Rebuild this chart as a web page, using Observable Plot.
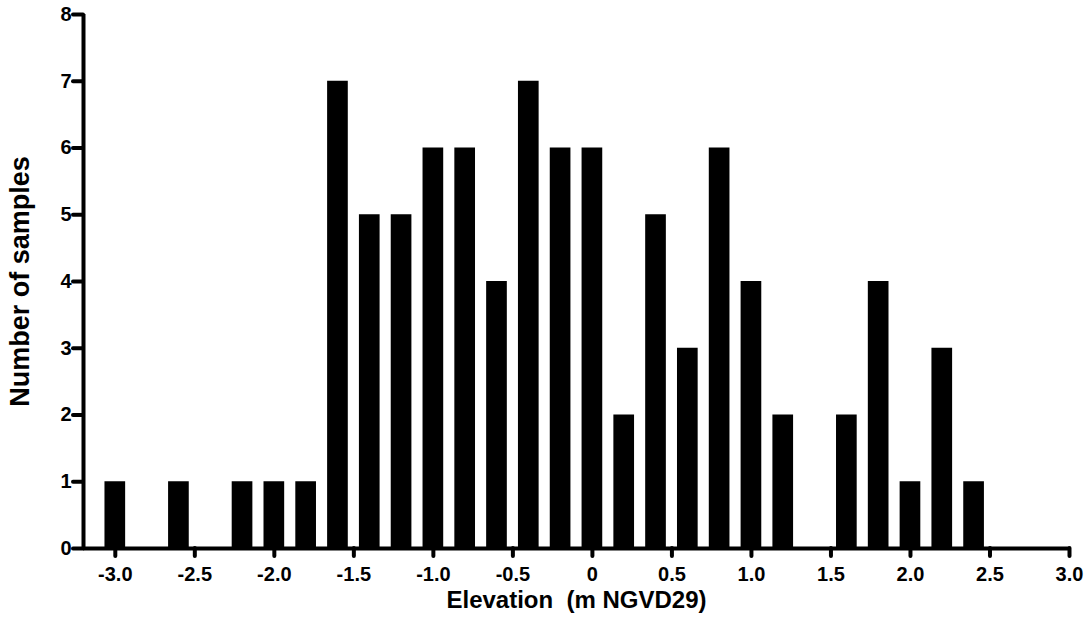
<!DOCTYPE html>
<html>
<head>
<meta charset="utf-8">
<script src="https://cdn.jsdelivr.net/npm/d3@7"></script>
<script src="https://cdn.jsdelivr.net/npm/@observablehq/plot@0.6"></script>
<style>
  html, body { margin: 0; padding: 0; background: #fff; }
  svg text { white-space: pre; }
</style>
</head>
<body>
<div id="chart"></div>
<script>
// Bin centres (m NGVD29) and sample counts
const elevations = [-3.0, -2.6, -2.2, -2.0, -1.8, -1.6, -1.4, -1.2, -1.0, -0.8, -0.6, -0.4, -0.2, 0.0, 0.2, 0.4, 0.6, 0.8, 1.0, 1.2, 1.6, 1.8, 2.0, 2.2, 2.4];
const counts     = [1, 1, 1, 1, 1, 7, 5, 5, 6, 6, 4, 7, 6, 6, 2, 5, 3, 6, 4, 2, 2, 4, 1, 3, 1];
const xTicks = [-3.0, -2.5, -2.0, -1.5, -1.0, -0.5, 0, 0.5, 1.0, 1.5, 2.0, 2.5, 3.0];
const yTicks = [0, 1, 2, 3, 4, 5, 6, 7, 8];
const xLabel = "Elevation  (m NGVD29)";
const yLabel = "Number of samples";

const halfWidth = 0.065;
const xMin = -3.2, xMax = 3.0;
const data = elevations.map((x, i) => ({x, n: counts[i]}));
const font = "'Liberation Sans', Arial, Helvetica, sans-serif";
const fmtX = d => d === 0 ? "0" : d.toFixed(1);

const chart = Plot.plot({
  width: 1088,
  height: 620,
  marginLeft: 83,
  marginRight: 19,
  marginTop: 14,
  marginBottom: 72,
  style: {fontFamily: font, background: "#fff", color: "#000"},
  x: {domain: [xMin, xMax], axis: null},
  y: {domain: [0, 8], axis: null},
  marks: [
    Plot.rectY(data, {x1: d => d.x - halfWidth, x2: d => d.x + halfWidth, y: "n", fill: "black"}),
    // x ticks (downward, 8px)
    Plot.ruleX(xTicks, {x: d => d, y1: 0, y2: 0, insetTop: 8, stroke: "black", strokeWidth: 4, strokeLinecap: "round"}),
    // y ticks (leftward, 10px)
    Plot.ruleY(yTicks, {y: d => d, x1: xMin, x2: xMin, insetLeft: -10, stroke: "black", strokeWidth: 4, strokeLinecap: "round"}),
    // axis lines
    Plot.ruleY([0], {strokeWidth: 4, stroke: "black"}),
    Plot.ruleX([xMin], {strokeWidth: 4, stroke: "black"}),
    // tick labels
    Plot.text(xTicks, {x: d => d, frameAnchor: "bottom", text: fmtX, dy: 18, textAnchor: "middle", lineAnchor: "top", fontSize: 20, fontWeight: "bold", fill: "black"}),
    Plot.text(yTicks, {y: d => d, frameAnchor: "left", text: d => String(d), dx: -12, textAnchor: "end", lineAnchor: "middle", fontSize: 20, fontWeight: "bold", fill: "black"}),
    // axis titles
    Plot.text([xLabel], {frameAnchor: "bottom", dy: 52, textAnchor: "middle", lineAnchor: "middle", fontSize: 24, fontWeight: "bold", fill: "black"}),
    Plot.text([yLabel], {frameAnchor: "left", dx: -63, rotate: -90, textAnchor: "middle", lineAnchor: "middle", fontSize: 27, fontWeight: "bold", fill: "black"})
  ]
});
document.getElementById("chart").appendChild(chart);
</script>
</body>
</html>
